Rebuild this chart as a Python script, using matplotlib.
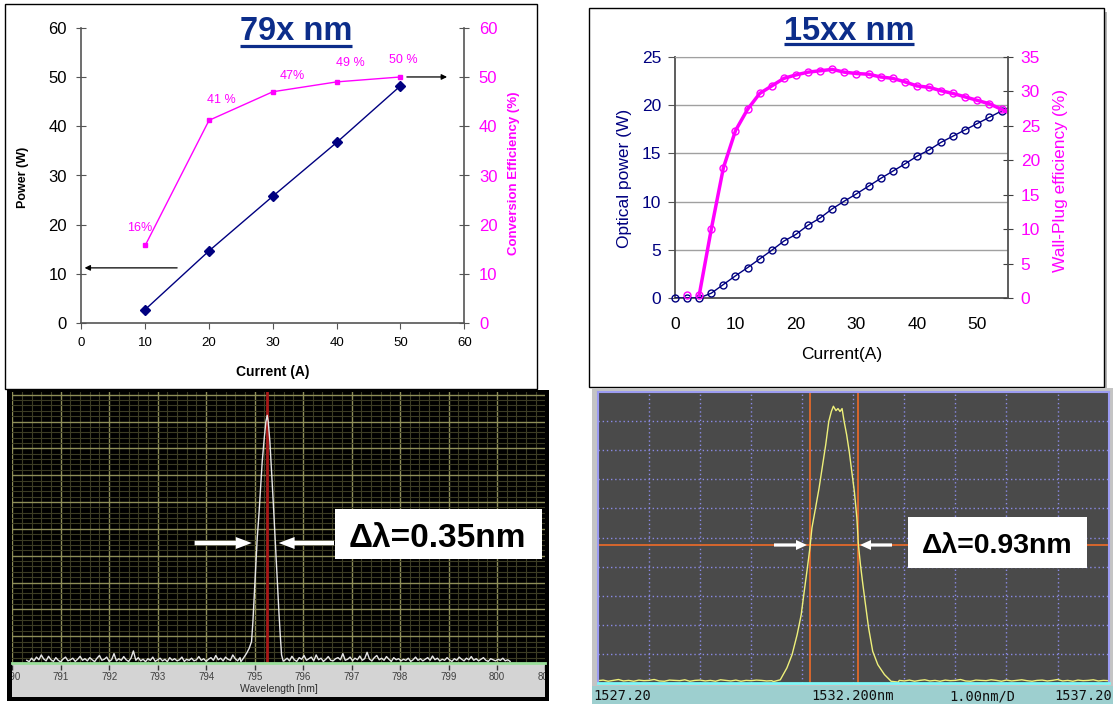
import numpy as np
import matplotlib.pyplot as plt
from matplotlib.patches import Rectangle, FancyArrow
from matplotlib.ticker import MultipleLocator

plt.rcParams['font.family'] = ['Liberation Sans', 'DejaVu Sans']

W, H = 1113, 704

# 79x nm : output power and conversion efficiency vs drive current
cur79 = [10, 20, 30, 40, 50]
pow79 = [2.8, 14.7, 25.8, 36.7, 48.2]
eff79 = [15.8, 41.2, 47.0, 49.0, 50.0]
eff79_txt = ['16%', '41 %', '47%', '49 %', '50 %']

# 15xx nm : optical power and wall-plug efficiency vs current
cur15 = list(range(0, 56, 2))
pow15 = [0, 0, 0, 0.5, 1.4, 2.3, 3.15, 4.05, 4.95, 5.9, 6.6, 7.55, 8.3, 9.25,
         10.05, 10.8, 11.6, 12.4, 13.15, 13.9, 14.7, 15.35, 16.15, 16.8, 17.45,
         18.1, 18.75, 19.4]
cur15_wpe = cur15[1:]
wpe15 = [0.4, 0.4, 10.0, 18.9, 24.3, 27.4, 29.7, 30.8, 31.9, 32.4,
         32.8, 33.0, 33.2, 32.8, 32.6, 32.5, 32.1, 31.9, 31.4, 30.8,
         30.6, 30.1, 29.7, 29.2, 28.7, 28.2, 27.4]
# fitted curves run on past the last point to the plot edge
fit_end = 56
pow15_end = 20.0
wpe15_end = 26.6

# 79x nm spectrum (arb. units, 10 grid divisions)
wl79_pk = [794.717, 794.766, 794.834, 794.889, 794.937, 794.965, 794.986, 795.006,
           795.027, 795.054, 795.089, 795.123, 795.157, 795.199, 795.233, 795.260,
           795.281, 795.315, 795.350, 795.384, 795.419, 795.446, 795.474, 795.501,
           795.529, 795.556, 795.590]
sp79_pk = [0.05, 0.17, 0.36, 0.55, 0.80, 1.54, 2.29, 3.03, 3.78, 4.65, 5.52, 6.52,
           7.51, 8.38, 9.00, 9.23, 9.00, 8.26, 7.14, 6.02, 4.78, 3.78, 2.79, 1.91,
           1.04, 0.30, 0.07]
noise79_l = [0.10, 0.05, 0.18, 0.08, 0.22, 0.12, 0.30, 0.15, 0.08, 0.25,
             0.12, 0.06, 0.20, 0.10, 0.04, 0.15, 0.22, 0.08, 0.12, 0.18,
             0.06, 0.14, 0.25, 0.10, 0.16, 0.08, 0.20, 0.12, 0.05, 0.18,
             0.28, 0.10, 0.14, 0.22, 0.06, 0.12, 0.35, 0.08, 0.16, 0.10,
             0.24, 0.12, 0.06, 0.18, 0.45, 0.10, 0.20, 0.08, 0.14, 0.05,
             0.16, 0.10, 0.22, 0.06, 0.12, 0.18, 0.08, 0.14, 0.05, 0.20,
             0.10, 0.16, 0.08, 0.12, 0.22, 0.06, 0.14, 0.10, 0.18, 0.08,
             0.12, 0.24, 0.10, 0.16, 0.06, 0.14, 0.20, 0.10, 0.28, 0.12,
             0.18, 0.08, 0.22, 0.14, 0.10, 0.30, 0.16, 0.08, 0.20]
noise79_r = [0.10, 0.18, 0.08, 0.25, 0.12, 0.06, 0.20, 0.14, 0.28, 0.10,
             0.16, 0.22, 0.08, 0.30, 0.12, 0.18, 0.06, 0.14, 0.24, 0.10,
             0.08, 0.16, 0.20, 0.12, 0.35, 0.10, 0.14, 0.22, 0.08, 0.18,
             0.12, 0.26, 0.10, 0.16, 0.40, 0.14, 0.08, 0.20, 0.28, 0.12,
             0.18, 0.10, 0.24, 0.14, 0.06, 0.20, 0.12, 0.16, 0.08, 0.14,
             0.10, 0.18, 0.06, 0.12, 0.22, 0.10, 0.16, 0.08, 0.14, 0.20,
             0.10, 0.26, 0.12, 0.18, 0.08, 0.14, 0.10, 0.20, 0.12, 0.06,
             0.16, 0.10, 0.22, 0.14, 0.08, 0.18, 0.12, 0.24, 0.10, 0.16,
             0.08, 0.14, 0.20, 0.10, 0.06, 0.16, 0.12, 0.08, 0.14, 0.10,
             0.18, 0.08, 0.12, 0.06]
marker79 = 795.26

# 15xx nm spectrum (OSA trace, 10 divisions)
wl15_pk = [1530.64, 1530.77, 1530.90, 1531.00, 1531.10, 1531.18, 1531.23, 1531.30,
           1531.35, 1531.39, 1531.46, 1531.53, 1531.59, 1531.66, 1531.72, 1531.77,
           1531.81, 1531.86, 1531.90, 1531.94, 1531.98, 1532.02, 1532.07, 1532.12,
           1532.17, 1532.22, 1532.27, 1532.30, 1532.34, 1532.38, 1532.43, 1532.50,
           1532.58, 1532.68, 1532.81, 1532.94, 1533.08]
sp15_pk = [0.05, 0.11, 0.52, 0.97, 1.66, 2.35, 3.03, 3.95, 4.64, 5.33,
           6.01, 6.70, 7.39, 8.19, 8.99, 9.33, 9.51, 9.36, 9.43, 9.33,
           9.43, 8.99, 8.53, 7.96, 7.27, 6.59, 5.67, 4.75, 4.07, 3.49,
           2.81, 1.89, 1.09, 0.63, 0.29, 0.06, 0.03]
noise15_l = [0.08, 0.10, 0.06, 0.09, 0.12, 0.07, 0.09, 0.06, 0.10, 0.08,
             0.09, 0.12, 0.07, 0.06, 0.10, 0.09, 0.08, 0.11, 0.06, 0.09,
             0.10, 0.07, 0.09, 0.06, 0.11, 0.09, 0.07, 0.10, 0.06, 0.09,
             0.08, 0.10, 0.09, 0.07, 0.08]
noise15_r = [0.09, 0.07, 0.10, 0.06, 0.09, 0.11, 0.07, 0.09, 0.06, 0.10,
             0.08, 0.09, 0.12, 0.07, 0.06, 0.10, 0.09, 0.08, 0.11, 0.09,
             0.06, 0.10, 0.07, 0.09, 0.11, 0.08, 0.06, 0.09, 0.10, 0.07,
             0.09, 0.12, 0.07, 0.09, 0.06, 0.10, 0.08, 0.09, 0.11, 0.07,
             0.09, 0.08]
cursor15_x = [1531.36, 1532.29]
cursor15_y = 4.73
osa_labels = ['1527.20', '1532.200nm', '1.00nm/D', '1537.20']

fig = plt.figure(figsize=(W / 100, H / 100), dpi=100)


def px_axes(x0, y0, x1, y1, **kw):
    return fig.add_axes([x0 / W, 1 - y1 / H, (x1 - x0) / W, (y1 - y0) / H], **kw)


def overlay(z):
    a = px_axes(0, 0, W, H)
    a.set_xlim(0, W)
    a.set_ylim(H, 0)
    a.axis('off')
    a.set_zorder(z)
    return a


# panel frames
bg = overlay(0)
bg.add_patch(Rectangle((5, 4), 532, 385, fill=False, ec='black', lw=1))
bg.add_patch(Rectangle((593, 12), 514, 379, fc='#b4b4b4', ec='none'))
bg.add_patch(Rectangle((589, 8), 515, 379, fc='white', ec='black', lw=1))
bg.add_patch(Rectangle((7, 390), 542, 311, fc='black', ec='none'))
bg.add_patch(Rectangle((592, 388), 521, 298, fc='#c4c4c4', ec='none'))
bg.add_patch(Rectangle((592, 686), 521, 18, fc='#9dcfcf', ec='none'))

NAVY = '#000080'
MAG = '#ff00ff'
SP = '#555555'

# ---- top left : 79x nm
ax1 = px_axes(81.4, 27.7, 464.3, 323.3)
ax1.plot(cur79, pow79, color=NAVY, lw=1, marker='D', ms=5, zorder=3)
ax1.set_xlim(0, 60)
ax1.set_ylim(0, 60)
ax1.set_xticks(range(0, 61, 10))
ax1.set_yticks(range(0, 61, 10))
ax1.tick_params(axis='y', direction='inout', length=7, color=SP, labelsize=12, pad=7)
ax1.tick_params(axis='x', direction='out', length=4, color=SP, labelsize=9.5, pad=6)
for s in ('top', 'right'):
    ax1.spines[s].set_visible(False)
for s in ('left', 'bottom'):
    ax1.spines[s].set_color(SP)
    ax1.spines[s].set_linewidth(1.2)
ax1.annotate('', xy=(0.5, 11.25), xytext=(15, 11.25), annotation_clip=False,
             arrowprops=dict(arrowstyle='-|>', color='black', lw=0.9, mutation_scale=8,
                             shrinkA=0, shrinkB=0))

ax1r = ax1.twinx()
ax1r.plot(cur79, eff79, color=MAG, lw=1, marker='s', ms=3.5)
ax1r.set_ylim(0, 60)
ax1r.set_yticks(range(0, 61, 10))
ax1r.tick_params(axis='y', direction='inout', length=7, color=SP, labelsize=12,
                 labelcolor=MAG, pad=7)
for s in ('top', 'left', 'bottom'):
    ax1r.spines[s].set_visible(False)
ax1r.spines['right'].set_color(SP)
ax1r.spines['right'].set_linewidth(1.2)
lbl_off = [(-0.9, 3.6), (1.9, 4.2), (3.1, 3.1), (2.1, 3.8), (0.4, 3.5)]
for x, y, t, (dx, dy) in zip(cur79, eff79, eff79_txt, lbl_off):
    ax1r.text(x + dx, y + dy, t, color=MAG, fontsize=9, ha='center', va='center')
ax1r.annotate('', xy=(57.3, 50), xytext=(51, 50), annotation_clip=False,
              arrowprops=dict(arrowstyle='-|>', color='black', lw=0.9, mutation_scale=8,
                              shrinkA=0, shrinkB=0))

# ---- top right : 15xx nm
ax2 = px_axes(675, 57, 1007.6, 298)
ax2.plot(cur15 + [fit_end], pow15 + [pow15_end], color=NAVY, lw=1, zorder=3)
ax2.plot(cur15, pow15, ls='none', marker='o', ms=5, mfc='none', mec=NAVY, mew=1,
         clip_on=False, zorder=4)
ax2.set_xlim(0, 55)
ax2.set_ylim(0, 25)
ax2.set_xticks(range(0, 51, 10))
ax2.set_yticks(range(0, 26, 5))
ax2.yaxis.grid(True, color='#a0a0a0', lw=1)
ax2.set_axisbelow(True)
ax2.tick_params(axis='y', direction='out', length=5, color=SP, labelsize=12.5,
                labelcolor=NAVY, pad=5)
ax2.tick_params(axis='x', length=0, labelsize=12.5, pad=14)
ax2.spines['right'].set_visible(False)
ax2.spines['top'].set_color('#a0a0a0')
for s in ('left', 'bottom'):
    ax2.spines[s].set_color('#505050')
    ax2.spines[s].set_linewidth(1.3)

ax2r = ax2.twinx()
ax2r.plot(cur15_wpe[1:] + [fit_end], wpe15[1:] + [wpe15_end], color=MAG, lw=2.5)
ax2r.plot(cur15_wpe, wpe15, ls='none', marker='o', ms=5, mfc='none', mec=MAG, mew=1,
          clip_on=False)
ax2r.set_ylim(0, 35)
ax2r.set_yticks(range(0, 36, 5))
ax2r.tick_params(axis='y', direction='inout', length=7, color='#404040', labelsize=12.5,
                 labelcolor=MAG, pad=6)
for s in ('top', 'left', 'bottom'):
    ax2r.spines[s].set_visible(False)
ax2r.spines['right'].set_color('#505050')
ax2r.spines['right'].set_linewidth(1.3)

# ---- bottom left : 79x nm spectrum
wl79 = np.concatenate([np.linspace(790.30, 794.70, len(noise79_l)), wl79_pk,
                       np.linspace(795.62, 800.27, len(noise79_r))])
sp79 = np.concatenate([noise79_l, sp79_pk, noise79_r])

ax3 = px_axes(12.2, 392, 545, 663, facecolor='black')
ax3.set_xlim(790, 800.99)
ax3.set_ylim(0, 10.1)
ax3.xaxis.set_major_locator(MultipleLocator(1))
ax3.xaxis.set_minor_locator(MultipleLocator(0.2))
ax3.yaxis.set_major_locator(MultipleLocator(1))
ax3.yaxis.set_minor_locator(MultipleLocator(0.2))
ax3.grid(which='minor', color='#3c3c24', lw=0.8)
ax3.grid(which='major', color='#8e8e58', lw=1)
ax3.tick_params(which='both', length=0, labelbottom=False, labelleft=False)
for s in ax3.spines.values():
    s.set_visible(False)
ax3.axvline(marker79, color='#a81818', lw=2)
ax3.plot(wl79, sp79, color='#e6e6e6', lw=1)

# grey scale strip under the trace; y runs 0 (top) .. 1 (bottom)
ax3b = px_axes(12.2, 663, 545, 697, facecolor='#d4d4d4')
ax3b.set_xlim(ax3.get_xlim())
ax3b.set_ylim(1, 0)
ax3b.set_xticks([])
ax3b.set_yticks([])
for s in ('left', 'right', 'bottom'):
    ax3b.spines[s].set_visible(False)
ax3b.spines['top'].set_color('#9adf9a')
ax3b.spines['top'].set_linewidth(2)
nm_ticks = range(790, 802)
ax3b.vlines(nm_ticks, 0.06, 0.2, color='#333333', lw=1)
for t in nm_ticks:
    ax3b.text(t, 0.42, str(t), ha='center', va='center', fontsize=7, color='#404040',
              clip_on=True)
ax3b.text(np.mean(ax3.get_xlim()), 0.76, 'Wavelength [nm]', ha='center',
          va='center', fontsize=7.5, color='#303030')

# ---- bottom right : 15xx nm spectrum
wl15 = np.concatenate([np.linspace(1527.2, 1530.6, len(noise15_l)), wl15_pk,
                       np.linspace(1533.1, 1537.2, len(noise15_r))])
sp15 = np.concatenate([noise15_l, sp15_pk, noise15_r])

ax4 = px_axes(598, 392, 1108.6, 683, facecolor='#4a4a4a')
ax4.set_xlim(1527.2, 1537.2)
ax4.set_ylim(0, 10)
ax4.set_xticks(np.arange(1528.2, 1537.0, 1.0))
ax4.set_yticks(range(1, 10))
ax4.grid(True, ls=(0, (1, 2)), color='#8a8ae6', lw=1)
ax4.tick_params(length=0, labelbottom=False, labelleft=False)
for s in ('top', 'left', 'right'):
    ax4.spines[s].set_color('#9c9cf2')
    ax4.spines[s].set_linewidth(1.5)
ax4.spines['bottom'].set_color('#7ef7f7')
ax4.spines['bottom'].set_linewidth(2)
for c in cursor15_x:
    ax4.axvline(c, color='#e2692a', lw=1.3)
ax4.axhline(cursor15_y, color='#e2692a', lw=1.3)
ax4.plot(wl15, sp15, color='#eef07a', lw=1)

# ---- text, arrows and boxes on top
top = overlay(10)
t1 = top.text(296, 40, '79x nm', ha='center', va='baseline', fontsize=23.5,
              weight='bold', color='#0c2d8a')
t2 = top.text(849, 40, '15xx nm', ha='center', va='baseline', fontsize=23.5,
              weight='bold', color='#0c2d8a')

top.text(23, 177, 'Power (W)', rotation=90, ha='center', va='center', fontsize=9,
         weight='bold')
top.text(514, 173, 'Conversion Efficiency (%)', rotation=90, ha='center', va='center',
         fontsize=9.5, weight='bold', color=MAG)
top.text(273, 372, 'Current (A)', ha='center', va='center', fontsize=10, weight='bold')
top.text(625, 178, 'Optical power (W)', rotation=90, ha='center', va='center',
         fontsize=12.5, color=NAVY)
top.text(1060, 180, 'Wall-Plug efficiency (%)', rotation=90, ha='center', va='center',
         fontsize=12.5, color=MAG)
top.text(842, 355, 'Current(A)', ha='center', va='center', fontsize=12.5)

# delta-lambda callouts
top.add_patch(Rectangle((334.6, 509), 207, 50, fc='white', ec='none'))
top.text(437.5, 547.3, 'Δλ=0.35nm', ha='center', va='baseline', fontsize=24,
         weight='bold')
top.add_patch(FancyArrow(194.6, 543, 57.2, 0, width=4.5, head_width=12, head_length=16,
                         length_includes_head=True, color='white', lw=0))
top.add_patch(FancyArrow(334, 543, -55.4, 0, width=4.5, head_width=12, head_length=16,
                         length_includes_head=True, color='white', lw=0))

top.add_patch(Rectangle((908, 517), 179, 51, fc='white', ec='none'))
top.text(997.4, 553.3, 'Δλ=0.93nm', ha='center', va='baseline', fontsize=20.5,
         weight='bold')
top.add_patch(FancyArrow(774, 545, 33, 0, width=3.2, head_width=10, head_length=11,
                         length_includes_head=True, color='white', lw=0))
top.add_patch(FancyArrow(892, 545, -32, 0, width=3.2, head_width=10, head_length=11,
                         length_includes_head=True, color='white', lw=0))

mono = dict(family='DejaVu Sans Mono', fontsize=9.8, va='center', color='#101010')
top.text(593, 696, osa_labels[0], ha='left', **mono)
top.text(853, 696, osa_labels[1], ha='center', **mono)
top.text(982, 696, osa_labels[2], ha='center', **mono)
top.text(1112, 696, osa_labels[3], ha='right', **mono)

# underline the two titles
fig.canvas.draw()
for t, yu in ((t1, 45.5), (t2, 43.7)):
    bb = t.get_window_extent()
    top.plot([bb.x0, bb.x1], [yu, yu], color='#0c2d8a', lw=2.3, solid_capstyle='butt')

fig.savefig('out.png', dpi=100)
